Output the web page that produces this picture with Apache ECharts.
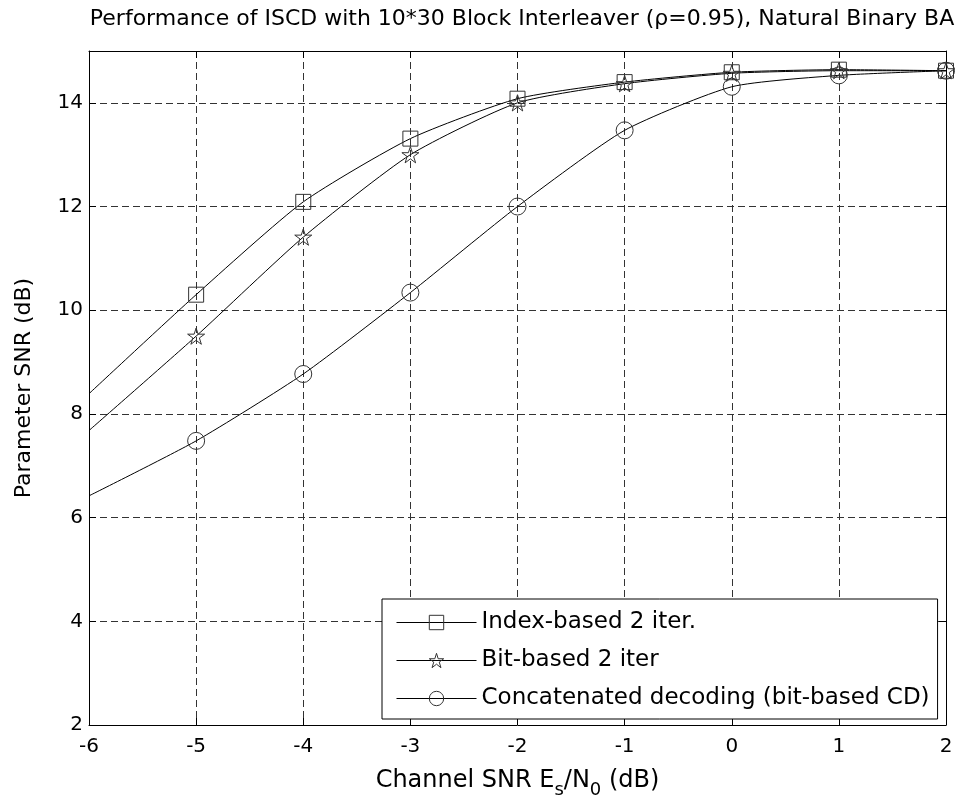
<!DOCTYPE html>
<html>
<head>
<meta charset="utf-8">
<script src="https://cdn.jsdelivr.net/npm/echarts@6/dist/echarts.min.js"></script>
<style>
html,body{margin:0;padding:0;background:#fff;}
#chart{width:962px;height:804px;}
</style>
</head>
<body>
<div id="chart"></div>
<script>
// Channel SNR (dB) sample points
var channelSNR = [-6, -5, -4, -3, -2, -1, 0, 1, 2];
// Parameter SNR (dB) per curve
var indexBased = [8.39, 10.30, 12.09, 13.31, 14.08, 14.40, 14.59, 14.64, 14.62];
var bitBased = [7.68, 9.50, 11.41, 13.00, 14.00, 14.37, 14.57, 14.62, 14.62];
var concatenated = [6.42, 7.48, 8.77, 10.34, 12.00, 13.47, 14.31, 14.53, 14.62];
var seriesNames = ['Index-based 2 iter.', 'Bit-based 2 iter', 'Concatenated decoding (bit-based CD)'];
var xTicks = [-6, -5, -4, -3, -2, -1, 0, 1, 2];
var yTicks = [2, 4, 6, 8, 10, 12, 14];

var FONT = 'DejaVu Sans';
var starPath = 'path://M50,2 L61,36 L97,36 L68,57 L79,92 L50,70 L21,92 L32,57 L3,36 L39,36 Z';

function build(vals) {
  return channelSNR.map(function (x, i) {
    var p = { value: [x, vals[i]] };
    if (i === 0) p.symbol = 'none';
    return p;
  });
}

function mkSeries(name, vals, symbol, size) {
  return {
    name: name,
    type: 'line',
    data: build(vals),
    symbol: symbol,
    symbolSize: size,
    symbolKeepAspect: true,
    showAllSymbol: true,
    smooth: 0.2,
    color: '#000',
    lineStyle: { color: '#000', width: 1 },
    itemStyle: { color: 'rgba(0,0,0,0)', borderColor: '#333', borderWidth: 1 },
    emphasis: { disabled: true },
    clip: true,
    z: 3
  };
}

var chart = echarts.init(document.getElementById('chart'), null, { renderer: 'canvas' });
var axisLineStyle = { color: '#000', width: 1 };
var gridLine = { show: true, lineStyle: { color: '#333', type: [7, 4], width: 1 } };

chart.setOption({
  backgroundColor: '#fff',
  animation: false,
  title: {
    text: 'Performance of ISCD with 10*30 Block Interleaver (\u03c1=0.95), Natural Binary BA',
    left: 517,
    textAlign: 'center',
    top: 3,
    textStyle: { fontFamily: FONT, fontSize: 22, fontWeight: 'normal', color: '#000' }
  },
  grid: { left: 89, right: 16, top: 51, bottom: 71, containLabel: false },
  legend: {
    orient: 'vertical',
    left: 382,
    top: 599,
    data: seriesNames,
    itemWidth: 80,
    itemHeight: 18,
    itemGap: 15,
    padding: [12, 8, 9, 14],
    backgroundColor: '#fff',
    borderColor: '#000',
    borderWidth: 1,
    borderRadius: 0,
    itemStyle: { color: 'rgba(0,0,0,0)', borderColor: '#333', borderWidth: 1 },
    lineStyle: { color: '#000', width: 1 },
    textStyle: { fontFamily: FONT, fontSize: 23, color: '#000', padding: [0, 0, 0, 0] },
    selectedMode: false
  },
  xAxis: [{
    type: 'value',
    min: -6, max: 2, interval: 1,
    position: 'bottom',
    axisLine: { show: true, onZero: false, lineStyle: axisLineStyle },
    axisTick: { show: true, inside: true, length: 7, lineStyle: axisLineStyle },
    axisLabel: { fontFamily: FONT, fontSize: 20, color: '#000', margin: 12 },
    splitLine: gridLine,
    name: 'Channel SNR E{s|s}/N{s|0} (dB)',
    nameLocation: 'middle',
    nameGap: 37,
    nameTextStyle: {
      fontFamily: FONT, fontSize: 24, color: '#000',
      rich: { s: { fontFamily: FONT, fontSize: 18, color: '#000', padding: [19, 0, 0, 0] } }
    }
  }, {
    type: 'value',
    min: -6, max: 2, interval: 1,
    position: 'top',
    axisLine: { show: true, onZero: false, lineStyle: axisLineStyle },
    axisTick: { show: true, inside: true, length: 7, lineStyle: axisLineStyle },
    axisLabel: { show: false },
    splitLine: { show: false }
  }],
  yAxis: [{
    type: 'value',
    min: 2, max: 15, interval: 2,
    position: 'left',
    axisLine: { show: true, onZero: false, lineStyle: axisLineStyle },
    axisTick: { show: true, inside: true, length: 7, lineStyle: axisLineStyle },
    axisLabel: {
      fontFamily: FONT, fontSize: 20, color: '#000', margin: 6,
      formatter: function (v) { return yTicks.indexOf(v) >= 0 ? String(v) : ''; }
    },
    splitLine: gridLine,
    name: 'Parameter SNR (dB)',
    nameLocation: 'middle',
    nameGap: 54,
    nameTextStyle: { fontFamily: FONT, fontSize: 22, color: '#000' }
  }, {
    type: 'value',
    min: 2, max: 15, interval: 2,
    position: 'right',
    axisLine: { show: true, onZero: false, lineStyle: axisLineStyle },
    axisTick: { show: true, inside: true, length: 7, lineStyle: axisLineStyle },
    axisLabel: { show: false },
    splitLine: { show: false }
  }],
  series: [
    mkSeries(seriesNames[0], indexBased, 'rect', 15),
    mkSeries(seriesNames[1], bitBased, starPath, 17),
    mkSeries(seriesNames[2], concatenated, 'circle', 17)
  ]
});
</script>
</body>
</html>
